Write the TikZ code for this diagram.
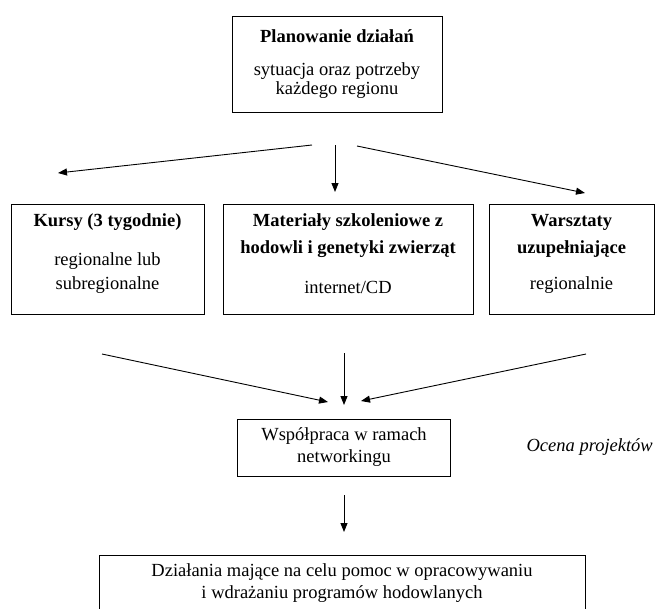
\documentclass[tikz,border=0pt]{standalone}
\usepackage{fontspec}
\setmainfont{Liberation Serif}
\usetikzlibrary{arrows.meta}
\begin{document}
\begin{tikzpicture}[x=1pt,y=-1pt,
  box/.style={draw,line width=0.9pt,inner sep=0pt},
  txt/.style={inner sep=0pt,font=\fontsize{18.5}{20}\selectfont},
  btxt/.style={inner sep=0pt,font=\fontsize{18.5}{20}\selectfont\bfseries},
  arr/.style={line width=0.9pt,-{Triangle[length=9pt,width=7pt]}}]
\useasboundingbox (0,0) rectangle (655,608);
% boxes
\node[box,minimum width=210pt,minimum height=96pt] (plan) at (337,64) {};
\node[box,minimum width=193pt,minimum height=110pt] (kursy) at (107.5,259) {};
\node[box,minimum width=250pt,minimum height=110pt] (mat) at (348,259) {};
\node[box,minimum width=165pt,minimum height=110pt] (warsz) at (571.5,259) {};
\node[box,minimum width=213pt,minimum height=57pt] (wsp) at (344,447.5) {};
\node[box,minimum width=486pt,minimum height=58pt] (dzial) at (342,584) {};
% texts
\node[btxt] (t1) at (337,36) {Planowanie działań};
\node[txt] (t2) at (337,71) {sytuacja oraz potrzeby};
\node[txt] (t3) at (337,90) {każdego regionu};
\node[btxt] (k1) at (107.5,222) {Kursy (3 tygodnie)};
\node[txt] (k2) at (107.5,261) {regionalne lub};
\node[txt] (k3) at (107.5,285) {subregionalne};
\node[btxt] (m1) at (348,222) {Materiały szkoleniowe z};
\node[btxt] (m2) at (348,249) {hodowli i genetyki zwierząt};
\node[txt] (m3) at (348,287) {internet/CD};
\node[btxt] (w1) at (571.5,222) {Warsztaty};
\node[btxt] (w2) at (571.5,249) {uzupełniające};
\node[txt] (w3) at (571.5,285) {regionalnie};
\node[txt] (s1) at (344,436) {Współpraca w ramach};
\node[txt] (s2) at (344,458) {networkingu};
\node[txt,font=\fontsize{18.5}{20}\selectfont\itshape,anchor=east] (oc) at (653,447) {Ocena projektów};
\node[txt] (d1) at (342,572) {Działania mające na celu pomoc w opracowywaniu};
\node[txt] (d2) at (342,594) {i wdrażaniu programów hodowlanych};
% arrow coordinates
\coordinate (a1s) at (312,145); \coordinate (a1e) at (58,173);
\coordinate (a2s) at (335,145); \coordinate (a2e) at (335,192);
\coordinate (a3s) at (357,146); \coordinate (a3e) at (585,193);
\coordinate (b1s) at (102,354); \coordinate (b1e) at (328,402);
\coordinate (b2s) at (344,353); \coordinate (b2e) at (344,405);
\coordinate (b3s) at (586,354); \coordinate (b3e) at (361,401);
\coordinate (c1s) at (344,495); \coordinate (c1e) at (344,532);
\draw[arr] (a1s) -- (a1e);
\draw[arr] (a2s) -- (a2e);
\draw[arr] (a3s) -- (a3e);
\draw[arr] (b1s) -- (b1e);
\draw[arr] (b2s) -- (b2e);
\draw[arr] (b3s) -- (b3e);
\draw[arr] (c1s) -- (c1e);
\end{tikzpicture}
\end{document}
